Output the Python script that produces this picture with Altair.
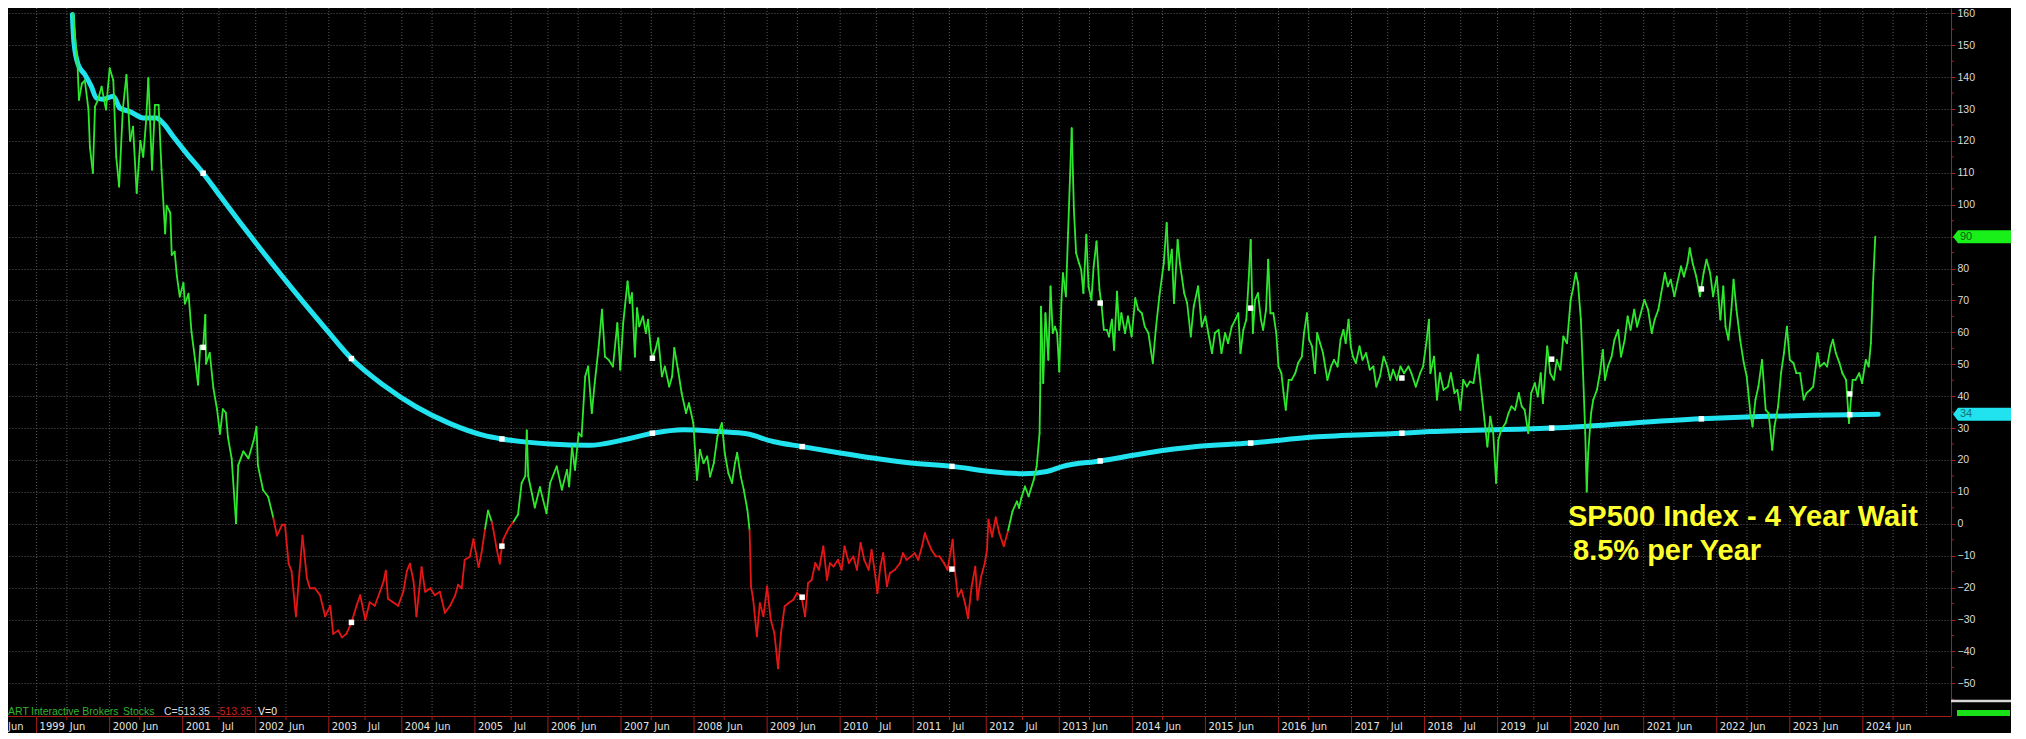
import altair as alt
import pandas as pd

# ---------------- data ----------------
# oscillator line (decimal year, value); green above 0, red below 0
osc_1999_2001 = [
    (1999.50, 160), (1999.53, 151.7), (1999.56, 143.9), (1999.58, 132.9), (1999.62, 138),
    (1999.66, 139), (1999.71, 129.8), (1999.73, 118), (1999.77, 110), (1999.80, 130.8),
    (1999.84, 132.9), (1999.89, 137), (1999.95, 129.8), (2000.00, 142.8), (2000.05, 139),
    (2000.09, 115), (2000.13, 105.7), (2000.18, 129.8), (2000.23, 140.7), (2000.28, 120),
    (2000.32, 124.5), (2000.37, 103.7), (2000.42, 120), (2000.46, 115), (2000.50, 126.6),
    (2000.53, 139.7), (2000.58, 111), (2000.62, 131.3), (2000.67, 131.3), (2000.71, 111),
    (2000.76, 91), (2000.78, 99.7), (2000.83, 97.5), (2000.85, 84.3), (2000.89, 85.3),
    (2000.92, 77.7), (2000.96, 71.2), (2001.01, 75.5), (2001.03, 69), (2001.08, 72.1),
    (2001.12, 60.2), (2001.17, 51.4), (2001.21, 43.6), (2001.24, 55.8), (2001.28, 55.3),
    (2001.31, 65.5), (2001.32, 50.2), (2001.37, 53.6), (2001.42, 42.5), (2001.47, 35.9),
    (2001.51, 28.2), (2001.55, 35.9), (2001.59, 34.8), (2001.62, 27.1), (2001.67, 20.5),
    (2001.73, 0.2), (2001.76, 18.3), (2001.83, 22.7), (2001.90, 20.5), (2001.97, 26),
]
osc_2002_2005 = [
    (2002.01, 30.4), (2002.03, 18.3), (2002.10, 10.6), (2002.17, 8.5), (2002.24, 1.9),
    (2002.29, -3.7), (2002.36, -0.3), (2002.40, -0.3), (2002.45, -12.5), (2002.49, -14.8),
    (2002.55, -29), (2002.60, -14.8), (2002.64, -3.7), (2002.70, -17), (2002.74, -20.2),
    (2002.81, -20.2), (2002.88, -22.4), (2002.95, -29), (2003.02, -25.7), (2003.06, -34.5),
    (2003.13, -33.4), (2003.18, -35.6), (2003.24, -34.5), (2003.31, -31), (2003.38, -25.7),
    (2003.43, -22.4), (2003.50, -30.1), (2003.56, -24.6), (2003.63, -25.7), (2003.70, -21.3),
    (2003.75, -18), (2003.78, -14.7), (2003.81, -23.5), (2003.88, -24.6), (2003.95, -25.7),
    (2004.02, -21.3), (2004.07, -14.7), (2004.11, -12.5), (2004.16, -18), (2004.20, -29),
    (2004.27, -13.6), (2004.32, -21.3), (2004.39, -20.2), (2004.45, -22.4), (2004.52, -21.3),
    (2004.59, -27.9), (2004.66, -25.7), (2004.73, -22.4), (2004.77, -19.1), (2004.82, -20.2),
    (2004.86, -11.3), (2004.93, -10.3), (2004.98, -4.8), (2005.05, -13.6), (2005.09, -9.2),
    (2005.14, -1.5), (2005.18, 4.1), (2005.23, 0.7), (2005.25, -1.5), (2005.30, -8.1),
    (2005.34, -12.5), (2005.37, -7), (2005.39, -4.8), (2005.46, -1.5), (2005.53, 0.7),
    (2005.59, 2.9), (2005.64, 12.8), (2005.69, 15), (2005.71, 29.3), (2005.73, 15),
    (2005.78, 9.5), (2005.82, 5.1), (2005.89, 11.5), (2005.98, 3.3),
]
osc_2006_2008 = [
    (2006.03, 12.8), (2006.12, 18), (2006.19, 10.7), (2006.26, 16.9), (2006.29, 11.7),
    (2006.33, 24.2), (2006.37, 16.9), (2006.42, 28.4), (2006.46, 27.4), (2006.51, 46.2),
    (2006.55, 49.3), (2006.60, 34.7), (2006.64, 44.1), (2006.69, 54.5), (2006.74, 67.1),
    (2006.78, 52.4), (2006.83, 51.4), (2006.89, 49.3), (2006.95, 62.9), (2006.99, 48.3),
    (2007.03, 62.9), (2007.09, 76), (2007.12, 69.2), (2007.15, 72.3), (2007.19, 52.4),
    (2007.22, 67.6), (2007.25, 61.9), (2007.30, 65), (2007.34, 59.8), (2007.37, 64),
    (2007.41, 54.5), (2007.43, 52), (2007.47, 54.5), (2007.51, 58.2), (2007.56, 46.2),
    (2007.60, 49.3), (2007.66, 43), (2007.70, 46.2), (2007.73, 55.1), (2007.78, 48.3),
    (2007.83, 41), (2007.89, 34.7), (2007.93, 37.8), (2007.99, 31.6), (2008.04, 13.8),
    (2008.08, 23.2), (2008.13, 19), (2008.18, 21.1), (2008.22, 14.8), (2008.27, 19),
    (2008.32, 27.4), (2008.38, 31.6), (2008.42, 22.2), (2008.47, 15.9), (2008.52, 12.8),
    (2008.56, 19), (2008.59, 22.2), (2008.64, 14.8), (2008.68, 10.7), (2008.73, 4.4),
    (2008.76, -1.9), (2008.78, -19.6), (2008.81, -23.8), (2008.86, -35.3), (2008.90, -24.9),
    (2008.95, -29),
]
osc_2009_2012 = [
    (2009.00, -19.6), (2009.05, -30.1), (2009.10, -34.3), (2009.15, -45.3), (2009.19, -34.3),
    (2009.24, -25.9), (2009.29, -24.9), (2009.36, -23.8), (2009.41, -21.7), (2009.47, -22.8),
    (2009.52, -29), (2009.56, -18.6), (2009.61, -17.6), (2009.66, -12.3), (2009.71, -14.4),
    (2009.77, -7.1), (2009.82, -17.6), (2009.86, -12.3), (2009.91, -13.4), (2009.97, -11.3),
    (2010.02, -14.4), (2010.06, -7.1), (2010.12, -12.3), (2010.18, -10.2), (2010.23, -14.4),
    (2010.28, -6), (2010.33, -11.3), (2010.39, -14.4), (2010.43, -8.2), (2010.47, -14.4),
    (2010.51, -21.7), (2010.55, -13.4), (2010.59, -9.2), (2010.64, -19.6), (2010.68, -15.5),
    (2010.75, -14.4), (2010.82, -12.3), (2010.86, -9.2), (2010.91, -11.3), (2010.97, -10.2),
    (2011.02, -9.2), (2011.07, -11.3), (2011.12, -7.1), (2011.16, -2.9), (2011.21, -6),
    (2011.25, -8.2), (2011.31, -10.2), (2011.36, -10.2), (2011.42, -12.3), (2011.47, -14.4),
    (2011.54, -5), (2011.57, -14.4), (2011.61, -22.8), (2011.66, -20.7), (2011.71, -24.9),
    (2011.75, -29.6), (2011.80, -19.6), (2011.85, -13.4), (2011.88, -23.8), (2011.93, -16.5),
    (2011.98, -12.3), (2012.01, -8.2), (2012.03, 1.3), (2012.08, -4), (2012.13, 2),
    (2012.18, -3), (2012.24, -7), (2012.30, -2), (2012.36, 4), (2012.42, 7), (2012.45, 5),
]
osc_2012_2015 = [
    (2012.48, 8.1), (2012.53, 11.7), (2012.58, 8.6), (2012.65, 13.8), (2012.69, 18),
    (2012.73, 28.4), (2012.74, 44.1), (2012.75, 68.1), (2012.78, 44.1), (2012.81, 66),
    (2012.85, 51.4), (2012.88, 74.4), (2012.91, 59.8), (2012.94, 61.8), (2012.97, 59.8),
    (2013.00, 47.7), (2013.03, 70.2), (2013.05, 78.6), (2013.09, 71.3), (2013.12, 91.1),
    (2013.17, 124), (2013.20, 98.4), (2013.23, 84.9), (2013.27, 81.7), (2013.30, 79.6),
    (2013.33, 72.3), (2013.37, 90.6), (2013.40, 74.4), (2013.44, 70.2), (2013.47, 80.7),
    (2013.51, 88.5), (2013.55, 73.4), (2013.58, 68.1), (2013.61, 60.8), (2013.65, 60.8),
    (2013.68, 58.7), (2013.72, 64), (2013.75, 54.5), (2013.79, 72.8), (2013.82, 60.8),
    (2013.85, 66), (2013.90, 59.8), (2013.94, 65), (2013.99, 58.7), (2014.04, 70.7),
    (2014.08, 67.1), (2014.13, 66), (2014.17, 61.8), (2014.22, 59.8), (2014.28, 50.4),
    (2014.32, 60.8), (2014.37, 71.3), (2014.43, 81.7), (2014.47, 94.3), (2014.50, 79.6),
    (2014.54, 85.9), (2014.57, 69.2), (2014.62, 89), (2014.65, 81.7), (2014.71, 72.3),
    (2014.75, 69.2), (2014.80, 58.7), (2014.84, 68.1), (2014.90, 74.4), (2014.95, 61.8),
    (2015.00, 65), (2015.04, 59.8), (2015.09, 53.5), (2015.13, 59.8), (2015.18, 60.8),
    (2015.22, 53.5), (2015.27, 59.8), (2015.31, 56.6), (2015.36, 61.8), (2015.41, 64),
    (2015.45, 66), (2015.48, 53.5), (2015.52, 60.8), (2015.56, 64), (2015.59, 75.5),
    (2015.62, 89), (2015.65, 59.8), (2015.68, 70.2), (2015.72, 72.3), (2015.76, 64),
    (2015.79, 60.8), (2015.83, 67.1), (2015.86, 82.8), (2015.89, 66), (2015.93, 66),
    (2015.97, 59.8),
]
osc_2016_2018 = [
    (2016.00, 49.3), (2016.04, 47.2), (2016.07, 41), (2016.10, 35.7), (2016.14, 45.1),
    (2016.18, 45.1), (2016.23, 47.2), (2016.27, 50.4), (2016.32, 52.4), (2016.35, 59.8),
    (2016.39, 66), (2016.42, 57.7), (2016.46, 55.6), (2016.50, 47.2), (2016.53, 59.8),
    (2016.57, 56.6), (2016.61, 53.5), (2016.67, 45.1), (2016.72, 49.3), (2016.76, 51.4),
    (2016.81, 49.3), (2016.85, 57.7), (2016.89, 60.8), (2016.92, 56.6), (2016.96, 64),
    (2016.99, 55.6), (2017.02, 52.4), (2017.06, 50.4), (2017.11, 55.6), (2017.15, 51.4),
    (2017.20, 53.5), (2017.25, 48.3), (2017.30, 49.3), (2017.34, 43), (2017.39, 46.2),
    (2017.44, 52.4), (2017.49, 49.3), (2017.53, 45.1), (2017.57, 48.3), (2017.62, 45.1),
    (2017.67, 49.3), (2017.72, 47.2), (2017.78, 49.3), (2017.82, 47.2), (2017.88, 43),
    (2017.94, 47.2), (2017.98, 49.3), (2018.03, 57.7), (2018.06, 64), (2018.08, 47.2),
    (2018.13, 52.4), (2018.17, 38.9), (2018.21, 47.2), (2018.26, 42), (2018.32, 43),
    (2018.36, 47.2), (2018.41, 41), (2018.45, 42), (2018.49, 35.7), (2018.53, 45.1),
    (2018.58, 43), (2018.62, 44.6), (2018.67, 44.1), (2018.73, 53), (2018.75, 47.2),
    (2018.79, 38.9), (2018.82, 32.6), (2018.86, 24.2), (2018.90, 33.6), (2018.94, 28.4),
    (2018.98, 12.8),
]
osc_2019_2024 = [
    (2019.01, 26.3), (2019.05, 29.5), (2019.11, 31.6), (2019.15, 34.7), (2019.19, 36.8),
    (2019.24, 35.7), (2019.29, 41), (2019.33, 36.8), (2019.37, 35.7), (2019.42, 28.4),
    (2019.46, 41), (2019.51, 44.1), (2019.55, 39.9), (2019.59, 47.2), (2019.62, 37.8),
    (2019.68, 55.6), (2019.72, 47.2), (2019.77, 45.1), (2019.81, 51.4), (2019.86, 48.3),
    (2019.90, 58.7), (2019.95, 56.6), (2020.00, 70.2), (2020.03, 73.4), (2020.07, 78.6),
    (2020.10, 75.5), (2020.14, 64), (2020.17, 47.2), (2020.20, 28.4), (2020.22, 10.1),
    (2020.24, 22.2), (2020.28, 34.7), (2020.31, 38.9), (2020.36, 42), (2020.40, 47.2),
    (2020.44, 54.5), (2020.47, 45.1), (2020.51, 49.3), (2020.56, 52.4), (2020.60, 57.7),
    (2020.65, 60.8), (2020.69, 52.4), (2020.74, 57.7), (2020.78, 65), (2020.82, 60.8),
    (2020.87, 67.1), (2020.91, 61.8), (2020.96, 66), (2021.01, 70.2), (2021.06, 67.1),
    (2021.11, 59.8), (2021.15, 64), (2021.20, 67.1), (2021.24, 72.3), (2021.29, 78.6),
    (2021.33, 74.4), (2021.37, 76.5), (2021.42, 71.3), (2021.46, 75.5), (2021.51, 80.7),
    (2021.55, 77.5), (2021.60, 81.7), (2021.63, 86.4), (2021.67, 81.7), (2021.72, 77.5),
    (2021.77, 71.3), (2021.82, 78.6), (2021.86, 82.8), (2021.91, 78.6), (2021.95, 71.3),
    (2022.00, 77.5), (2022.05, 64), (2022.09, 74.4), (2022.12, 61.8), (2022.16, 57.7),
    (2022.20, 67.1), (2022.23, 76.5), (2022.27, 67.1), (2022.32, 57.7), (2022.37, 50.4),
    (2022.41, 46.2), (2022.46, 34.7), (2022.49, 30.5), (2022.53, 38.9), (2022.57, 43),
    (2022.62, 51.4), (2022.67, 35.7), (2022.71, 34.7), (2022.76, 23.2), (2022.79, 30.5),
    (2022.84, 36.8), (2022.88, 47.2), (2022.92, 53.5), (2022.96, 61.8), (2023.00, 51.4),
    (2023.05, 50.4), (2023.09, 47.2), (2023.14, 47.2), (2023.19, 38.9), (2023.23, 41),
    (2023.28, 42), (2023.32, 43), (2023.38, 53.5), (2023.41, 49.3), (2023.47, 50.4),
    (2023.51, 49.3), (2023.56, 55.6), (2023.59, 57.7), (2023.63, 53.5), (2023.68, 50.4),
    (2023.72, 47.2), (2023.77, 45.1), (2023.81, 31.6), (2023.86, 45.1), (2023.90, 45.1),
    (2023.95, 47.2), (2023.99, 44.1), (2024.04, 51.4), (2024.08, 49.3), (2024.11, 56.6),
    (2024.14, 75.5), (2024.17, 90),
]

# smooth average line (cyan)
avg_line = [
    (1999.49, 159.6), (1999.51, 151.2), (1999.57, 143.9), (1999.66, 140.8), (1999.75, 137),
    (1999.82, 133.4), (1999.91, 133.1), (2000.05, 134), (2000.14, 130.3), (2000.28, 129.2),
    (2000.46, 127.2), (2000.64, 127.2), (2000.73, 125.6), (2000.87, 121.4), (2001.05, 116.2),
    (2001.28, 109.9), (2001.51, 102.8), (2001.78, 94.6), (2002.06, 86.3), (2002.51, 73.4),
    (2002.97, 60.8), (2003.31, 51.8), (2003.75, 43.4), (2004.20, 36.6), (2004.66, 31.4),
    (2005.11, 27.8), (2005.37, 26.6), (2005.71, 25.6), (2006.03, 25.0), (2006.57, 24.6),
    (2007.03, 26.3), (2007.43, 28.4), (2007.85, 29.5), (2008.35, 28.9), (2008.72, 28.2),
    (2009.08, 25.8), (2009.48, 24.2), (2010.00, 22.2), (2010.45, 20.6), (2010.91, 19.2),
    (2011.54, 18), (2012.05, 16.4), (2012.51, 15.7), (2012.83, 16.4), (2013.05, 18),
    (2013.56, 19.7), (2014.20, 22.2), (2014.88, 24.2), (2015.61, 25.3), (2016.48, 27.2),
    (2017.69, 28.4), (2018.07, 28.9), (2019.74, 30), (2021.79, 32.9), (2023.82, 34.2),
    (2024.21, 34.3),
]

# white square markers
marker_t = [2001.28, 2003.31, 2005.37, 2007.43, 2009.48, 2011.53, 2013.56, 2015.62,
            2017.69, 2019.74, 2021.79, 2023.82]
marker_osc = [55.3, -30.9, -7.0, 51.9, -23.0, -14.2, 69.2, 67.6, 45.7, 51.6, 73.6, 40.7]
marker_avg = [109.9, 51.8, 26.6, 28.4, 24.2, 18.0, 19.7, 25.3, 28.4, 30.0, 32.9, 34.2]

# bottom axis labels
year_labels = list(range(1999, 2025))
mid_labels = [(1998, "Jun"), (1999, "Jun"), (2000, "Jun"), (2001, "Jul"), (2002, "Jun"),
              (2003, "Jul"), (2004, "Jun"), (2005, "Jul"), (2006, "Jun"), (2007, "Jun"),
              (2008, "Jun"), (2009, "Jun"), (2010, "Jul"), (2011, "Jul"), (2012, "Jul"),
              (2013, "Jun"), (2014, "Jun"), (2015, "Jun"), (2016, "Jun"), (2017, "Jul"),
              (2018, "Jul"), (2019, "Jul"), (2020, "Jun"), (2021, "Jun"), (2022, "Jun"),
              (2023, "Jun"), (2024, "Jun")]
extra_grid_t = [2024.87]
y_ticks = list(range(-50, 161, 10))

title_line1 = "SP500 Index - 4 Year Wait"
title_line2 = "8.5% per Year"
legend_parts = [("ART", "#2fb52f", 0), ("Interactive Brokers", "#2fb52f", 23),
                ("Stocks", "#2fb52f", 115), ("C=513.35", "#d6d6d6", 156),
                ("-513.35", "#c82020", 208), ("V=0", "#f0f0f0", 250)]

# ---------------- styling ----------------
GREEN = "#2ee82e"
RED = "#e51616"
CYAN = "#20e3ef"
AXRED = "#a81c1c"
GRID = "#5a5a5a"
NARROW = "Liberation Sans Narrow, Arial Narrow, DejaVu Sans Condensed, Liberation Sans"
W, H = 1943, 708

xs = alt.Scale(domain=[1998.6085, 2025.2067], nice=False, zero=False)
ys = alt.Scale(domain=[-60.24, 161.67], nice=False, zero=False)
yaxis = alt.Axis(values=y_ticks, orient="right", grid=True, gridDash=[1, 2], gridColor=GRID,
                 gridWidth=1, domainColor=AXRED, tickColor=AXRED, tickSize=4,
                 labelColor="#dcdcdc", labelFont="Liberation Sans", labelFontSize=10.5,
                 labelPadding=2, title=None, labelOverlap=False, labelFlush=False,
                 labelBound=False)


def X(f):
    return alt.X(f"{f}:Q", scale=xs, axis=None)


def Y(f):
    return alt.Y(f"{f}:Q", scale=ys, axis=yaxis)


osc = pd.DataFrame(osc_1999_2001 + osc_2002_2005 + osc_2006_2008 + osc_2009_2012 +
                   osc_2012_2015 + osc_2016_2018 + osc_2019_2024, columns=["t", "v"])
osc = osc.sort_values("t").reset_index(drop=True)
seg = osc.iloc[:-1].copy()
seg["t2"] = osc["t"].values[1:]
seg["v2"] = osc["v"].values[1:]
seg["side"] = ["up" if (a + b) / 2 >= 0 else "down" for a, b in zip(seg["v"], seg["v2"])]

avg = pd.DataFrame(avg_line, columns=["t", "v"])
marks = pd.DataFrame({"t": marker_t * 2, "v": marker_osc + marker_avg})


def mid_pos(y, m):
    return y + (151 if m == "Jun" else 181) / 365


grid_t = [float(y) for y in year_labels] + [mid_pos(y, m) for y, m in mid_labels] + extra_grid_t
grid_df = pd.DataFrame({"t": grid_t})
years_df = pd.DataFrame({"t": [float(y) for y in year_labels], "label": [str(y) for y in year_labels]})
mid_df = pd.DataFrame({"t": [mid_pos(y, m) for y, m in mid_labels],
                       "label": [m for _, m in mid_labels]})
mid_in = mid_df[mid_df["t"] > xs.domain[0]]
mid_first = mid_df[mid_df["t"] <= xs.domain[0]]
minor_df = pd.DataFrame({"v": list(range(-55, 161, 10))})
one = pd.DataFrame({"a": [0]})

# ---------------- layers ----------------
vgrid = alt.Chart(grid_df).mark_rule(color=GRID, strokeDash=[1, 2], strokeWidth=1).encode(
    x=X("t"), y=alt.value(0), y2=alt.value(H))

avg_layer = alt.Chart(avg).mark_line(color=CYAN, strokeWidth=5, interpolate="monotone",
                                     strokeCap="round", strokeJoin="round").encode(
    x=X("t"), y=Y("v"))

osc_layer = alt.Chart(seg).mark_rule(strokeWidth=1.8, strokeCap="round").encode(
    x=X("t"), x2="t2", y=Y("v"), y2="v2",
    color=alt.Color("side:N", scale=alt.Scale(domain=["up", "down"], range=[GREEN, RED]),
                    legend=None))

marker_layer = alt.Chart(marks).mark_square(color="white", size=30, opacity=1).encode(
    x=X("t"), y=Y("v"))

minor_ticks = alt.Chart(minor_df).mark_rule(color=AXRED, strokeWidth=1).encode(
    x=alt.value(W), x2=alt.value(W + 3), y=Y("v"))

# price tags on right axis (last values of the two series)
tags = pd.DataFrame({"v": [osc["v"].iloc[-1], avg["v"].iloc[-1]],
                     "kind": ["osc", "avg"]})
tags["label"] = [f"{x:.0f}" for x in tags["v"]]
tag_shape = "M0,0 L5,-6.5 L58,-6.5 L58,6.5 L5,6.5 Z"
tag_bg = alt.Chart(tags).mark_point(shape=tag_shape, size=4, filled=True, opacity=1,
                                    strokeWidth=0).encode(
    x=alt.value(W + 2), y=Y("v"),
    color=alt.Color("kind:N", scale=alt.Scale(domain=["osc", "avg"], range=["#19f019", CYAN]),
                    legend=None))
tag_txt = alt.Chart(tags).mark_text(align="left", baseline="middle", fontSize=11,
                                    font="Liberation Sans").encode(
    x=alt.value(W + 9), y=Y("v"), text="label:N",
    color=alt.Color("kind:N", scale=alt.Scale(domain=["osc", "avg"], range=["#0f5a0f", "#16707a"]),
                    legend=None))

# misc right-side bits
white_line = alt.Chart(one).mark_rule(color="#d8d8d8", strokeWidth=2.5).encode(
    x=alt.value(W), x2=alt.value(W + 60), y=alt.value(H - 15))
green_tag2 = alt.Chart(one).mark_rect(color="#19e019").encode(
    x=alt.value(W + 6), x2=alt.value(W + 59), y=alt.value(H - 6), y2=alt.value(H))

# bottom axis bar
bar_top = alt.Chart(one).mark_rule(color=AXRED, strokeWidth=1).encode(
    x=alt.value(0), x2=alt.value(W), y=alt.value(H + 0.5))
year_sep = alt.Chart(years_df).mark_rule(color=AXRED, strokeWidth=1).encode(
    x=X("t"), y=alt.value(H), y2=alt.value(H + 17))
mid_tick = alt.Chart(mid_df).mark_rule(color=AXRED, strokeWidth=1).encode(
    x=X("t"), y=alt.value(H), y2=alt.value(H + 4))
year_txt = alt.Chart(years_df).mark_text(align="left", baseline="alphabetic", dx=3,
                                         fontSize=11, font=NARROW, color="#e4e4e4").encode(
    x=X("t"), y=alt.value(H + 14), text="label:N")
mid_txt = alt.Chart(mid_in).mark_text(align="left", baseline="alphabetic", dx=3,
                                      fontSize=11, font=NARROW, color="#e4e4e4").encode(
    x=X("t"), y=alt.value(H + 14), text="label:N")
# first mid-year label starts before the visible range: pin it to the left edge
mid_first_txt = alt.Chart(mid_first).mark_text(align="left", baseline="alphabetic",
                                               fontSize=11, font=NARROW, color="#e4e4e4").encode(
    x=alt.value(0), y=alt.value(H + 14), text="label:N")

# legend row text
leg_layers = [alt.Chart(one).mark_text(align="left", baseline="alphabetic", fontSize=10.5,
                                       font="Liberation Sans", color=c).encode(
    x=alt.value(px), y=alt.value(H - 1), text=alt.value(s)) for s, c, px in legend_parts]

# yellow annotation
ann1 = alt.Chart(one).mark_text(align="left", baseline="alphabetic", fontSize=29,
                                fontWeight="bold", font="Liberation Sans", color="#ffff2e").encode(
    x=alt.value(1560), y=alt.value(518), text=alt.value(title_line1))
ann2 = alt.Chart(one).mark_text(align="left", baseline="alphabetic", fontSize=29,
                                fontWeight="bold", font="Liberation Sans", color="#ffff2e").encode(
    x=alt.value(1565), y=alt.value(552), text=alt.value(title_line2))

chart = alt.layer(
    vgrid, avg_layer, osc_layer, marker_layer, minor_ticks, tag_bg, tag_txt,
    white_line, green_tag2, bar_top, year_sep, mid_tick, year_txt, mid_txt, mid_first_txt,
    *leg_layers, ann1, ann2
).resolve_scale(color="independent").properties(
    width=W, height=H,
    padding={"left": 0, "top": 0, "right": 60, "bottom": 17},
    autosize=alt.AutoSizeParams(type="none"),
    background="#000000",
).configure_view(stroke=None)

chart.save("out.html", embed_options={"renderer": "svg", "actions": False})
